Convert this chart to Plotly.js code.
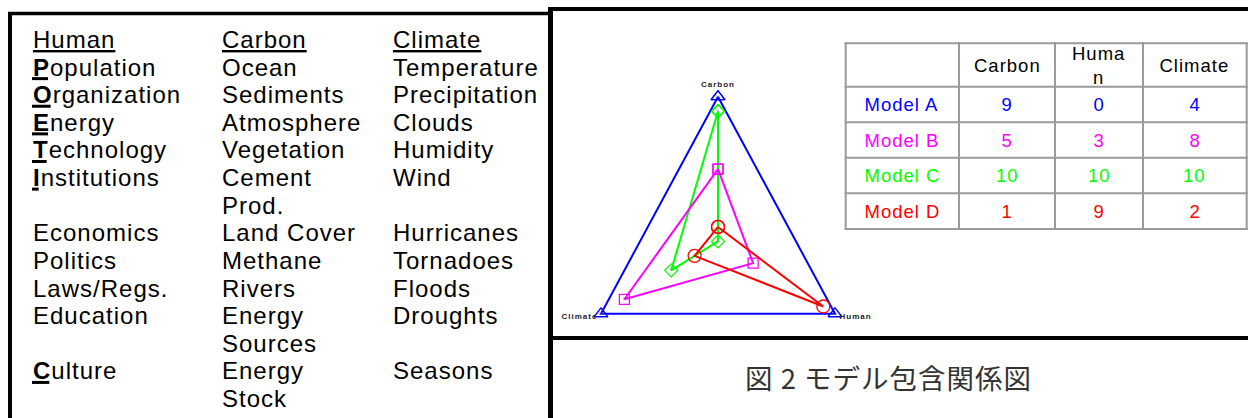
<!DOCTYPE html>
<html><head><meta charset="utf-8">
<script src="https://cdn.plot.ly/plotly-3.0.1.min.js"></script>
<style>
html,body{margin:0;padding:0;background:#fff;}
#chart{width:1248px;height:418px;}
.main-svg text{letter-spacing:1px;}
</style></head><body><div id="chart"></div>
<script>
// ---------------- data ----------------
const humanTerms   = ['Human','Population','Organization','Energy','Technology','Institutions','','Economics','Politics','Laws/Regs.','Education','','Culture',''];
const carbonTerms  = ['Carbon','Ocean','Sediments','Atmosphere','Vegetation','Cement','Prod.','Land Cover','Methane','Rivers','Energy','Sources','Energy','Stock'];
const climateTerms = ['Climate','Temperature','Precipitation','Clouds','Humidity','Wind','','Hurricanes','Tornadoes','Floods','Droughts','','Seasons',''];
const boldInitialRows = [1,2,3,4,5,12];

const axisNames = ['Carbon','Human','Climate'];
const tableHeader = ['', 'Carbon', 'Huma<br>n', 'Climate'];
const models  = ['Model A','Model B','Model C','Model D'];
const carbon  = [9, 5, 10, 1];
const human   = [0, 3, 10, 9];
const climate = [4, 8, 10, 2];
const caption = '図 2 モデル包含関係図';

// ---------------- styles ----------------
const tableColors = ['#0000ff','#ff00ff','#00ff00','#ff0000'];
const chartColors = ['#00ff00','#ff00ff','#0000ff','#ff0000']; // colours as drawn in the triangle
const chartSymbols = ['diamond','square','triangle-up','circle'];
const chartSizes = [10, 10, 12, 13];
const drawOrder = [2, 0, 1, 3];
const axisAngles = [90, -30, 210];

const W = 1248, H = 418;
const px = x => x / W, py = y => 1 - y / H;

// ---------------- triangle chart ----------------
const traces = [];
drawOrder.forEach(m => {
  const vals = [carbon[m], human[m], climate[m]];
  const xs = [], ys = [], tx = [];
  for (let k = 0; k <= 3; k++) {
    const kk = k % 3, a = axisAngles[kk] * Math.PI / 180;
    xs.push(vals[kk] * Math.cos(a));
    ys.push(vals[kk] * Math.sin(a));
    tx.push(k < 3 ? String(vals[kk]) : '');
  }
  traces.push({
    type: 'scatter', mode: 'lines+markers+text', x: xs, y: ys, text: tx,
    textposition: 'middle center', textfont: {size: 3.5, color: '#777', family: 'Liberation Sans'},
    line: {color: chartColors[m], width: 2},
    marker: {symbol: chartSymbols[m], size: chartSizes[m], color: 'rgba(255,255,255,0)',
             line: {color: chartColors[m], width: 1.3}},
    hoverinfo: 'skip', showlegend: false, cliponaxis: false
  });
});

// ---------------- annotations ----------------
const annotations = [];
const colX = [32, 221, 392];
const rowY = i => 39.5 + 27.62 * i;
const textFont = {family: 'Liberation Sans, Arial, sans-serif', size: 24, color: '#000'};
[humanTerms, carbonTerms, climateTerms].forEach((col, c) => {
  col.forEach((t, i) => {
    if (!t) return;
    let txt = t;
    if (c === 0 && boldInitialRows.includes(i)) txt = '<b>' + t[0] + '</b>' + t.slice(1);
    const f = Object.assign({}, textFont);
    if (i === 0) f.lineposition = 'under';
    annotations.push({xref: 'paper', yref: 'paper', x: px(colX[c]), y: py(rowY(i)),
      xanchor: 'left', yanchor: 'middle', align: 'left', text: txt, showarrow: false, font: f, borderpad: 0});
  });
});
// vertex labels
const vlab = [
  {xanchor: 'center', yanchor: 'bottom', xshift: 0, yshift: 7},
  {xanchor: 'left', yanchor: 'middle', xshift: 6, yshift: -3},
  {xanchor: 'right', yanchor: 'middle', xshift: -6, yshift: -3}
];
axisNames.forEach((n, k) => {
  const a = axisAngles[k] * Math.PI / 180;
  annotations.push(Object.assign({xref: 'x', yref: 'y', x: 10 * Math.cos(a), y: 10 * Math.sin(a),
    text: '<b>' + n + '</b>', showarrow: false, borderpad: 0,
    font: {family: 'Liberation Sans, Arial', size: 8, color: '#222'}}, vlab[k]));
});
// caption
annotations.push({xref: 'paper', yref: 'paper', x: px(888.5), y: py(377), xanchor: 'center', yanchor: 'middle',
  text: caption, showarrow: false, font: {family: 'Noto Sans CJK JP', size: 27.5, color: '#333'}});

// ---------------- table (grid + text) ----------------
const tColX = [845.7, 959, 1055, 1143, 1246.7];
const tRowY = [43.3, 86.7, 122.3, 157.7, 193.3, 229];
const tFont = {family: 'Liberation Sans, Arial, sans-serif', size: 18.5};
const cellCols = [models, carbon, human, climate];
tableHeader.forEach((h, c) => {
  if (!h) return;
  annotations.push({xref: 'paper', yref: 'paper', x: px((tColX[c] + tColX[c + 1]) / 2),
    y: py((tRowY[0] + tRowY[1]) / 2 + 0.5), xanchor: 'center', yanchor: 'middle', text: h,
    showarrow: false, borderpad: 0, font: Object.assign({color: '#000'}, tFont)});
});
cellCols.forEach((col, c) => {
  col.forEach((v, r) => {
    annotations.push({xref: 'paper', yref: 'paper', x: px((tColX[c] + tColX[c + 1]) / 2),
      y: py((tRowY[r + 1] + tRowY[r + 2]) / 2), xanchor: 'center', yanchor: 'middle', text: String(v),
      showarrow: false, borderpad: 0, font: Object.assign({color: tableColors[r]}, tFont)});
  });
});

// ---------------- frame shapes ----------------
const ln = (x0, y0, x1, y1, w, col) => ({type: 'line', xref: 'paper', yref: 'paper',
  x0: px(x0), y0: py(y0), x1: px(x1), y1: py(y1), line: {color: col || '#000', width: w}});
const shapes = [
  ln(10, 12, 10, 420, 4),
  ln(8, 13.5, 550, 13.5, 3.5),
  ln(550.5, 7, 550.5, 420, 5),
  ln(548, 9, 1250, 9, 4),
  ln(553, 338, 1250, 338, 4)
];
tColX.forEach(x => shapes.push(ln(x, tRowY[0] - 1, x, tRowY[tRowY.length - 1] + 1, 2, '#9a9a9a')));
tRowY.forEach(y => shapes.push(ln(tColX[0] - 1, y, tColX[tColX.length - 1] + 1, y, 2, '#9a9a9a')));
// underlines for bold initials
const cv = document.createElement('canvas').getContext('2d');
cv.font = 'bold 24px "Liberation Sans"';
boldInitialRows.forEach(i => {
  const w = cv.measureText(humanTerms[i][0]).width;
  const y = rowY(i) + 11.5;
  shapes.push(ln(colX[0], y, colX[0] + w, y, 3));
});

const layout = {
  width: W, height: H, margin: {l: 0, r: 0, t: 0, b: 0},
  paper_bgcolor: '#fff', plot_bgcolor: 'rgba(0,0,0,0)', showlegend: false,
  xaxis: {domain: [px(560), px(876)], range: [-11.695, 11.695], visible: false, fixedrange: true},
  yaxis: {domain: [py(330), py(60)], range: [-6.123, 12.536], visible: false, fixedrange: true},
  annotations, shapes,
  font: {family: 'Liberation Sans, Arial'}
};
Plotly.newPlot('chart', traces, layout, {staticPlot: true, displayModeBar: false});
</script></body></html>
